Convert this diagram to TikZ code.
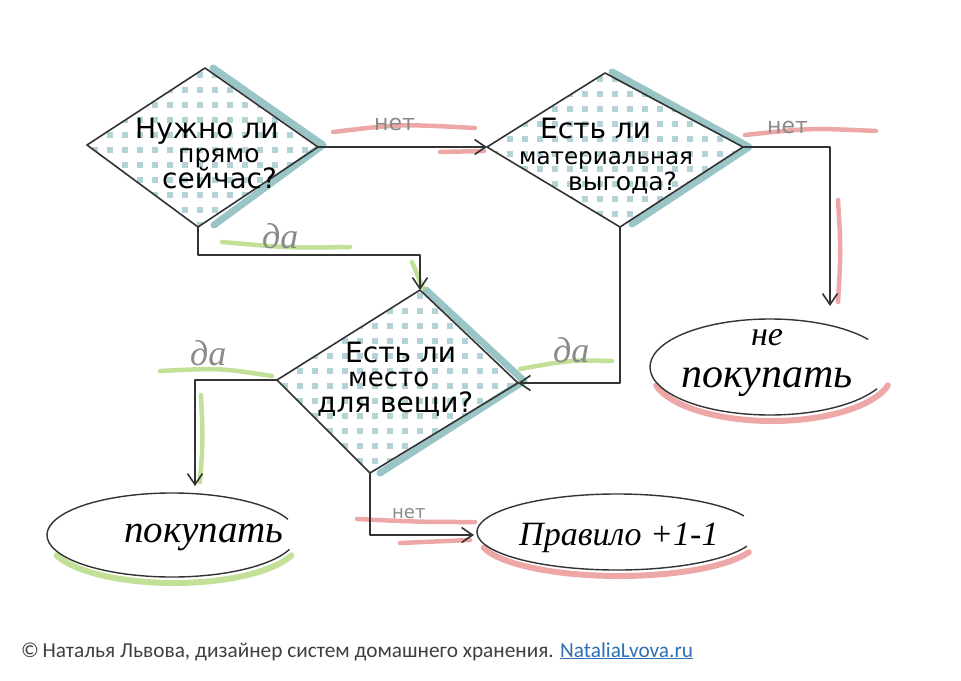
\documentclass[tikz,border=0pt]{standalone}
\usepackage{fontspec}
\usetikzlibrary{arrows.meta,shapes.geometric}
\setmainfont{Liberation Serif}
\newfontfamily\hand{DejaVu Sans}
\newfontfamily\cursive{Liberation Serif}
\newfontfamily\footfont{Carlito}
\definecolor{ink}{HTML}{333333}
\definecolor{dotc}{HTML}{B3D3D6}
\definecolor{shade}{HTML}{8FBFC2}
\definecolor{redh}{HTML}{EC9898}
\definecolor{greenh}{HTML}{B9DB86}
\definecolor{lblgray}{HTML}{8A8A8A}
\definecolor{footgray}{HTML}{404040}
\definecolor{linkblue}{HTML}{2F6FB3}
\begin{document}
\begin{tikzpicture}[x=1pt,y=-1pt,
  conn/.style={draw=ink,line width=1.6pt,line join=round,-{Straight Barb[length=11pt,width=15pt,line width=1.6pt]}},
  outline/.style={draw=ink,line width=1.6pt,line join=round},
  shadow/.style={draw=shade,line width=7pt,line cap=round,line join=round,opacity=0.9},
  dot/.style={fill=dotc},
  hl/.style={line width=4.5pt,line cap=round,opacity=0.85},
  htxt/.style={anchor=base west,inner sep=0pt,font=\hand\fontsize{28}{28}\selectfont,text=black},
  lbl/.style={anchor=base west,inner sep=0pt,text=lblgray,font=\hand\fontsize{22}{22}\selectfont},
  dalbl/.style={anchor=base west,inner sep=0pt,text=lblgray,font=\cursive\itshape\fontsize{36}{36}\selectfont},
  curs/.style={anchor=base west,inner sep=0pt,text=black,font=\cursive\itshape\fontsize{#1}{#1}\selectfont},
  ell/.style={ellipse,draw=none,inner sep=0pt}
]
\useasboundingbox[fill=white] (0,0) rectangle (961,680);

% ---- diamond vertices
\coordinate (d1t) at (205,68);  \coordinate (d1l) at (87,145);
\coordinate (d1r) at (318,147); \coordinate (d1b) at (198,227);
\coordinate (d2t) at (605,73);  \coordinate (d2l) at (487,147);
\coordinate (d2r) at (743,147); \coordinate (d2b) at (620,227);
\coordinate (d3t) at (420,290); \coordinate (d3l) at (277,380);
\coordinate (d3r) at (518,383); \coordinate (d3b) at (370,473);

% ---- dotted fill
\begin{scope}
  \clip (d1t) -- (d1r) -- (d1b) -- (d1l) -- cycle;
  \foreach \i in {0,...,16} \foreach \j in {0,...,11}
    \fill[dot] ({92+\i*15},{72+\j*15}) rectangle ++(6,6);
\end{scope}
\begin{scope}
  \clip (d2t) -- (d2r) -- (d2b) -- (d2l) -- cycle;
  \foreach \i in {0,...,18} \foreach \j in {0,...,11}
    \fill[dot] ({492+\i*15},{76+\j*15}) rectangle ++(6,6);
\end{scope}
\begin{scope}
  \clip (d3t) -- (d3r) -- (d3b) -- (d3l) -- cycle;
  \foreach \i in {0,...,17} \foreach \j in {0,...,13}
    \fill[dot] ({282+\i*15},{293+\j*15}) rectangle ++(6,6);
\end{scope}

% ---- blue shadows
\draw[shadow] (213,68) -- (323,145) -- (214,225);
\draw[shadow] (612,72) -- (749,147) -- (632,224);
\draw[shadow] (426,290) -- (524,381) -- (380,473);

% ---- diamond outlines
\draw[outline] (d1t) -- (d1r) -- (d1b) -- (d1l) -- cycle;
\draw[outline] (d2t) -- (d2r) -- (d2b) -- (d2l) -- cycle;
\draw[outline] (d3t) -- (d3r) -- (d3b) -- (d3l) -- cycle;

% ---- diamond texts
\node[htxt] (t1a) at (135,138) {Нужно ли};
\node[htxt,font=\hand\fontsize{25}{25}\selectfont] (t1b) at (178,162) {прямо};
\node[htxt] (t1c) at (162,188) {сейчас?};
\node[htxt] (t2a) at (540,138) {Есть ли};
\node[htxt,font=\hand\fontsize{23}{23}\selectfont] (t2b) at (519,164) {материальная};
\node[htxt,font=\hand\fontsize{25}{25}\selectfont] (t2c) at (568,190) {выгода?};
\node[htxt] (t3a) at (345,362) {Есть ли};
\node[htxt,font=\hand\fontsize{26}{26}\selectfont] (t3b) at (348,386) {место};
\node[htxt] (t3c) at (317,412) {для вещи?};

% ---- ellipse terminals
\node[ell,minimum width=240pt,minimum height=96pt] (ne) at (770,367) {};
\node[ell,minimum width=250pt,minimum height=84pt] (buy) at (172,535) {};
\node[ell,minimum width=280pt,minimum height=76pt] (rule) at (617,532) {};

% ellipse shadows
\draw[hl,draw=redh,line width=6pt,shift={(772,373)}] (165:120 and 48) arc[start angle=165,end angle=15,x radius=120,y radius=48];
\draw[hl,draw=greenh,line width=6pt,shift={(174,541)}] (160:125 and 42) arc[start angle=160,end angle=20,x radius=125,y radius=42];
\draw[hl,draw=redh,line width=6pt,shift={(619,538)}] (165:140 and 38) arc[start angle=165,end angle=22,x radius=140,y radius=38];

% ellipse outlines
\draw[draw=ink,line width=1.4pt,shift={(770,367)}] (-35:120 and 48) arc[start angle=-35,end angle=-333,x radius=120,y radius=48];
\draw[draw=ink,line width=1.4pt,shift={(172,535)}] (-22:125 and 42) arc[start angle=-22,end angle=-340,x radius=125,y radius=42];
\draw[draw=ink,line width=1.4pt,shift={(617,532)}] (-25:140 and 38) arc[start angle=-25,end angle=-338,x radius=140,y radius=38];

\node[inner sep=0pt,align=center,text=black,font=\cursive\itshape\fontsize{42}{42}\selectfont] (net) at (767,363) {{\fontsize{34}{42}\selectfont не}\\покупать};
\node[curs=39] (buyt) at (124,542) {покупать};
\node[curs=34] (rulet) at (519,545) {Правило +1-1};

% ---- label highlights
\draw[hl,draw=redh] (333,132) .. controls (400,124) .. (475,128);
\draw[hl,draw=redh] (440,152) -- (484,151);
\draw[hl,draw=redh] (745,135) .. controls (810,128) .. (876,131);
\draw[hl,draw=redh] (838,200) .. controls (841,250) .. (838,302);
\draw[hl,draw=greenh] (222,242) .. controls (290,248) .. (350,247);
\draw[hl,draw=greenh] (412,262) -- (423,288);
\draw[hl,draw=greenh] (520,369) .. controls (570,360) .. (612,361);
\draw[hl,draw=greenh] (160,371) .. controls (220,368) .. (272,376);
\draw[hl,draw=greenh] (201,395) .. controls (203,440) .. (200,482);
\draw[hl,draw=redh] (357,519) .. controls (420,522) .. (475,522);
\draw[hl,draw=redh] (400,543) -- (470,540);

% ---- connectors
\coordinate (c2) at (830,306);
\coordinate (c5) at (195,486);
\coordinate (c6) at (474,535);
\draw[conn] (d1r) -- (d2l);
\draw[conn] (d2r) -| (c2);
\draw[conn] (d1b) -- ++(0,28) -| (d3t);
\draw[conn] (d2b) |- (d3r);
\draw[conn] (d3l) -| (c5);
\draw[conn] (d3b) |- (c6);

% ---- connector labels
\node[lbl] (n1) at (374,130) {нет};
\node[lbl] (n2) at (767,133) {нет};
\node[lbl,font=\hand\fontsize{18}{18}\selectfont] (n3) at (392,518) {нет};
\node[dalbl] (y1) at (262,248) {да};
\node[dalbl] (y2) at (553,362) {да};
\node[dalbl] (y3) at (190,365) {да};

% ---- footer
\node[anchor=base west,inner sep=0pt,text=footgray,font=\footfont\fontsize{21.3}{21.3}\selectfont] (foot) at (21,657)
  {©\,Наталья Львова, дизайнер систем домашнего хранения. \textcolor{linkblue}{\underline{NataliaLvova.ru}}};
\end{tikzpicture}
\end{document}
